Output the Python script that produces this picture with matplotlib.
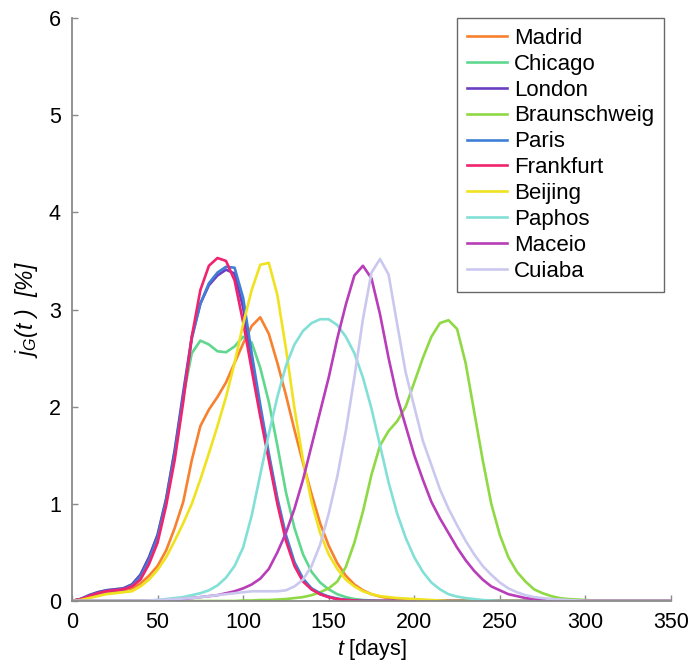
import matplotlib
matplotlib.use('Agg')
import matplotlib.pyplot as plt

plt.rcParams['font.family'] = ['Liberation Sans', 'DejaVu Sans']
plt.rcParams['mathtext.fontset'] = 'custom'
plt.rcParams['mathtext.rm'] = 'Liberation Sans'
plt.rcParams['mathtext.it'] = 'Liberation Sans:italic'

# days 0,5,...,350
days = list(range(0, 355, 5))

madrid = [0, 0.02, 0.04, 0.07, 0.09, 0.1, 0.11, 0.13, 0.18, 0.26, 0.36, 0.52,
          0.75, 1.02, 1.45, 1.8, 1.97, 2.1, 2.25, 2.45, 2.65, 2.83, 2.92, 2.75,
          2.45, 2.12, 1.76, 1.42, 1.1, 0.8, 0.57, 0.39, 0.26, 0.17, 0.11, 0.07,
          0.045, 0.03, 0.02, 0.015, 0.01, 0.005,
          0, 0, 0, 0, 0, 0, 0, 0, 0, 0, 0, 0, 0, 0, 0, 0, 0, 0, 0, 0, 0, 0, 0,
          0, 0, 0, 0, 0, 0]
chicago = [0, 0.02, 0.06, 0.09, 0.11, 0.12, 0.13, 0.17, 0.27, 0.45, 0.68, 1.05,
           1.55, 2.1, 2.55, 2.68, 2.64, 2.57, 2.56, 2.62, 2.72, 2.66, 2.4, 2.05,
           1.6, 1.12, 0.75, 0.48, 0.3, 0.19, 0.12, 0.07, 0.04, 0.02, 0.01, 0.005,
           0, 0, 0, 0, 0, 0, 0, 0, 0, 0, 0, 0, 0, 0, 0, 0, 0, 0, 0, 0, 0, 0, 0,
           0, 0, 0, 0, 0, 0, 0, 0, 0, 0, 0, 0]
london = [0, 0.02, 0.06, 0.09, 0.11, 0.12, 0.13, 0.17, 0.27, 0.45, 0.68, 1.05,
          1.55, 2.15, 2.72, 3.06, 3.25, 3.35, 3.41, 3.37, 3.02, 2.45, 1.95, 1.48,
          1.03, 0.65, 0.38, 0.21, 0.12, 0.07, 0.04, 0.02, 0.01, 0.005,
          0, 0, 0, 0, 0, 0, 0, 0, 0, 0, 0, 0, 0, 0, 0, 0, 0, 0, 0, 0, 0, 0, 0,
          0, 0, 0, 0, 0, 0, 0, 0, 0, 0, 0, 0, 0, 0]
braunschweig = [0, 0, 0, 0, 0, 0, 0, 0, 0, 0, 0, 0, 0, 0, 0, 0, 0, 0, 0, 0,
                0.005, 0.005, 0.01, 0.01, 0.015, 0.02, 0.03, 0.04, 0.06, 0.09,
                0.13, 0.2, 0.35, 0.6, 0.92, 1.3, 1.6, 1.75, 1.85, 2.0, 2.25, 2.5,
                2.72, 2.86, 2.89, 2.8, 2.45, 1.95, 1.45, 1.0, 0.68, 0.45, 0.3,
                0.2, 0.12, 0.08, 0.05, 0.03, 0.02, 0.015, 0.01, 0.005,
                0, 0, 0, 0, 0, 0, 0, 0, 0]
paris = [0, 0.02, 0.05, 0.08, 0.1, 0.11, 0.12, 0.16, 0.25, 0.42, 0.65, 1.02,
         1.5, 2.1, 2.7, 3.06, 3.27, 3.38, 3.44, 3.43, 3.12, 2.55, 2.02, 1.52,
         1.06, 0.68, 0.4, 0.23, 0.13, 0.08, 0.045, 0.025, 0.012, 0.005,
         0, 0, 0, 0, 0, 0, 0, 0, 0, 0, 0, 0, 0, 0, 0, 0, 0, 0, 0, 0, 0, 0, 0,
         0, 0, 0, 0, 0, 0, 0, 0, 0, 0, 0, 0, 0, 0]
frankfurt = [0, 0.02, 0.05, 0.08, 0.1, 0.11, 0.12, 0.15, 0.22, 0.38, 0.6, 0.98,
             1.45, 2.05, 2.72, 3.2, 3.45, 3.53, 3.5, 3.3, 2.87, 2.38, 1.9, 1.45,
             1.0, 0.62, 0.36, 0.2, 0.12, 0.07, 0.04, 0.02, 0.01, 0.005,
             0, 0, 0, 0, 0, 0, 0, 0, 0, 0, 0, 0, 0, 0, 0, 0, 0, 0, 0, 0, 0, 0,
             0, 0, 0, 0, 0, 0, 0, 0, 0, 0, 0, 0, 0, 0, 0]
beijing = [0, 0.01, 0.03, 0.05, 0.07, 0.08, 0.09, 0.1, 0.15, 0.22, 0.32, 0.45,
           0.62, 0.8, 1.0, 1.25, 1.52, 1.8, 2.1, 2.45, 2.85, 3.2, 3.46, 3.48,
           3.15, 2.6, 1.98, 1.45, 1.02, 0.7, 0.48, 0.33, 0.22, 0.15, 0.1, 0.07,
           0.05, 0.04, 0.03, 0.025, 0.02, 0.015, 0.01, 0.005,
           0, 0, 0, 0, 0, 0, 0, 0, 0, 0, 0, 0, 0, 0, 0, 0, 0, 0, 0, 0, 0, 0, 0,
           0, 0, 0, 0]
paphos = [0, 0, 0, 0, 0, 0, 0, 0, 0, 0.005, 0.01, 0.02, 0.03, 0.04, 0.06, 0.08,
          0.11, 0.16, 0.24, 0.36, 0.55, 0.88, 1.3, 1.72, 2.1, 2.42, 2.64, 2.78,
          2.86, 2.9, 2.9, 2.84, 2.72, 2.55, 2.3, 1.98, 1.6, 1.22, 0.9, 0.65,
          0.45, 0.3, 0.19, 0.12, 0.07, 0.045, 0.03, 0.02, 0.01, 0.005,
          0, 0, 0, 0, 0, 0, 0, 0, 0, 0, 0, 0, 0, 0, 0, 0, 0, 0, 0, 0, 0]
maceio = [0, 0, 0, 0, 0, 0, 0, 0, 0, 0, 0, 0, 0.01, 0.02, 0.03, 0.04, 0.05, 0.06,
          0.08, 0.1, 0.13, 0.17, 0.23, 0.33, 0.5, 0.7, 0.95, 1.25, 1.6, 1.95,
          2.3, 2.7, 3.05, 3.35, 3.45, 3.32, 2.95, 2.5, 2.1, 1.8, 1.5, 1.25, 1.02,
          0.85, 0.7, 0.55, 0.42, 0.31, 0.22, 0.15, 0.11, 0.07, 0.05, 0.03, 0.02,
          0.015, 0.01, 0.005, 0, 0, 0, 0, 0, 0, 0, 0, 0, 0, 0, 0, 0]
cuiaba = [0, 0, 0, 0, 0, 0, 0, 0, 0, 0.005, 0.01, 0.015, 0.02, 0.025, 0.03, 0.04,
          0.05, 0.06, 0.07, 0.08, 0.09, 0.1, 0.1, 0.1, 0.1, 0.11, 0.15, 0.22,
          0.36, 0.58, 0.9, 1.28, 1.75, 2.3, 2.9, 3.38, 3.52, 3.36, 2.85, 2.35,
          2.0, 1.65, 1.4, 1.15, 0.95, 0.78, 0.62, 0.48, 0.36, 0.27, 0.19, 0.13,
          0.09, 0.06, 0.04, 0.03, 0.02, 0.015, 0.01, 0.005,
          0, 0, 0, 0, 0, 0, 0, 0, 0, 0, 0]

cities = ['Madrid', 'Chicago', 'London', 'Braunschweig', 'Paris',
          'Frankfurt', 'Beijing', 'Paphos', 'Maceio', 'Cuiaba']
series = [madrid, chicago, london, braunschweig, paris,
          frankfurt, beijing, paphos, maceio, cuiaba]
colors = ['#f7812e', '#5fd88e', '#6a3fc2', '#8fd944', '#3f7fd6',
          '#f0236f', '#f0e21f', '#82e0d6', '#b83db8', '#cbc8f0']

fig, ax = plt.subplots(figsize=(6.91, 6.70), dpi=100)
fig.subplots_adjust(left=0.1042, right=0.971, bottom=0.103, top=0.9731)

for name, vals, c in zip(cities, series, colors):
    ax.plot(days, vals, color=c, lw=1.9, label=name,
            solid_joinstyle='round')

ax.set_xlim(0, 350)
ax.set_ylim(0, 6)
ax.set_xticks(range(0, 351, 50))
ax.set_yticks(range(0, 7))

# 只留左边和下边的轴
ax.spines['top'].set_visible(False)
ax.spines['right'].set_visible(False)
for s in ['left', 'bottom']:
    ax.spines[s].set_color('#8a8a8a')
    ax.spines[s].set_linewidth(1.3)
ax.tick_params(direction='in', length=4, width=1, color='#8a8a8a',
               labelsize=15.5, pad=8)

ax.set_xlabel(r'$t$ [days]', fontsize=15.5, labelpad=3)
ax.set_ylabel(r'$\mathit{j}_{\mathit{G}}$(t )  [%]', fontsize=16.5,
              fontstyle='italic', labelpad=6)

leg = ax.legend(loc='upper right', bbox_to_anchor=(0.988, 1.0), fontsize=16,
                frameon=True, fancybox=False, handlelength=1.8,
                handletextpad=0.3, labelspacing=0.22, borderpad=0.44,
                borderaxespad=0)
leg.get_frame().set_edgecolor('#444444')
leg.get_frame().set_linewidth(1.0)

plt.savefig('out.png', dpi=100)
